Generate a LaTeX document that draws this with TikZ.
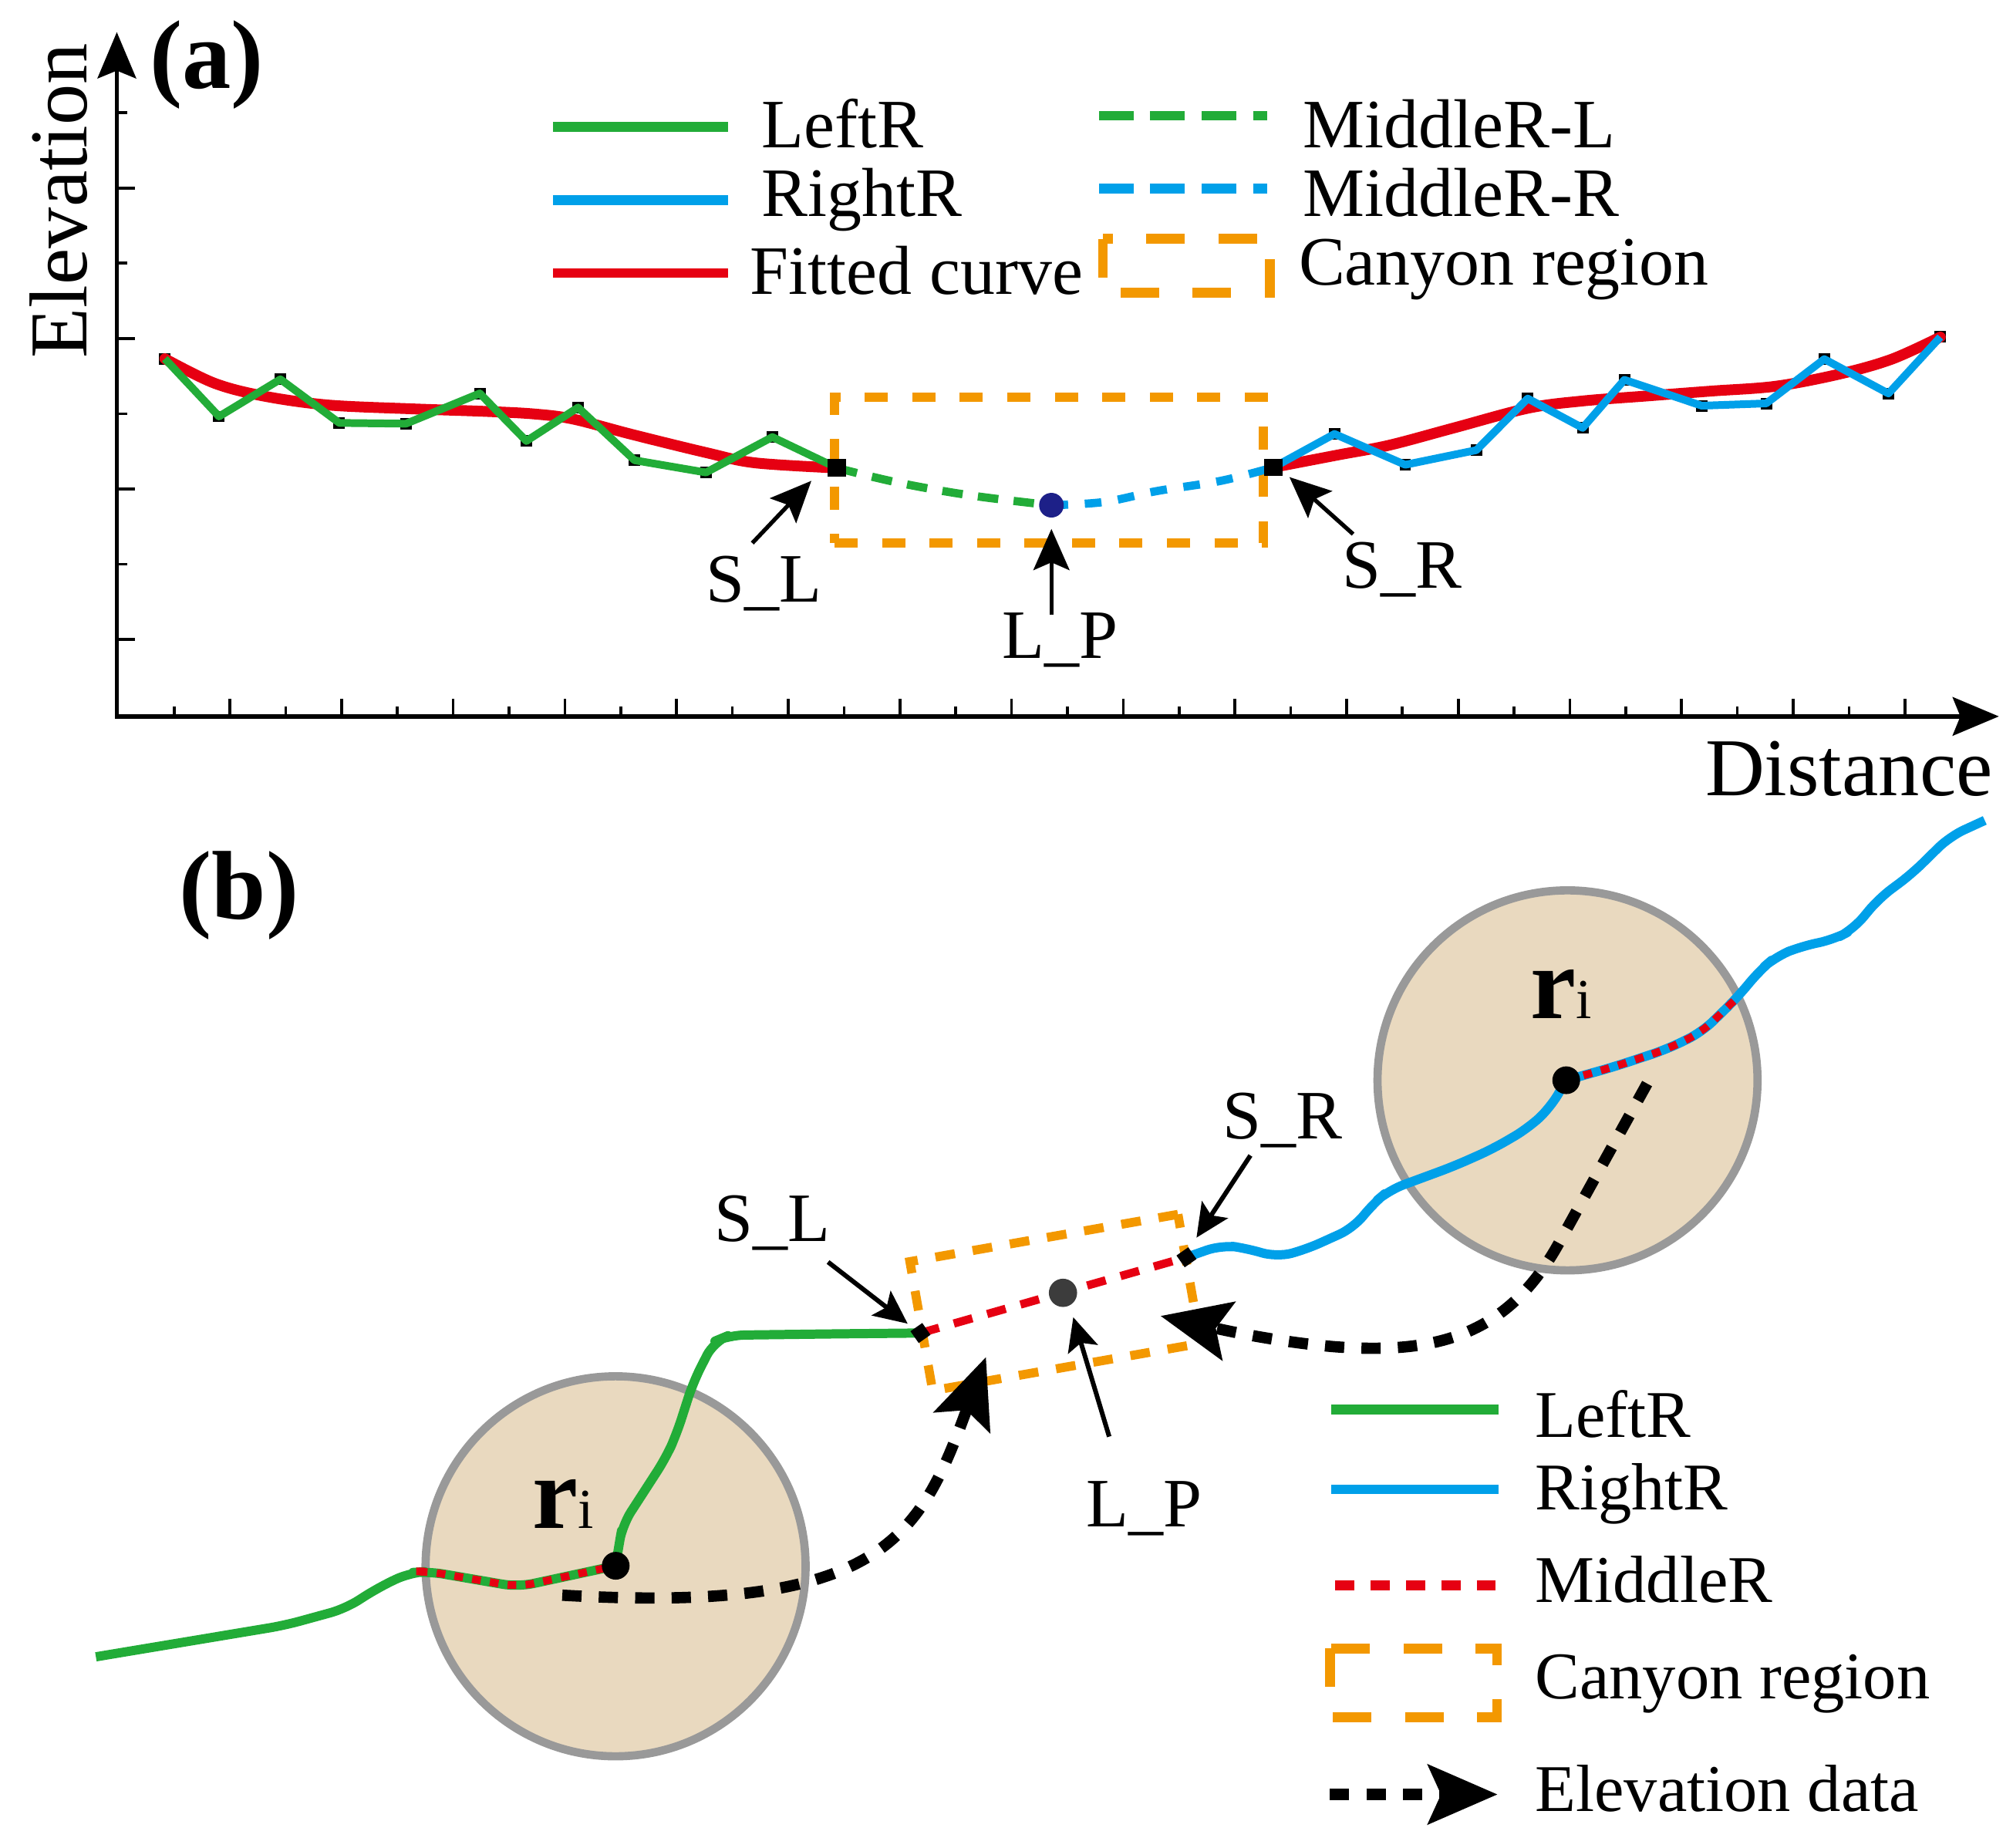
\documentclass[tikz,border=0pt]{standalone}
\usepackage{fontspec}
\setmainfont{Liberation Serif}
\usetikzlibrary{arrows.meta}
\definecolor{cgreen}{RGB}{34,172,56}
\definecolor{cblue}{RGB}{0,160,233}
\definecolor{cred}{RGB}{230,0,18}
\definecolor{corange}{RGB}{243,152,0}
\definecolor{cbeige}{RGB}{233,217,191}
\definecolor{cgray}{RGB}{153,153,153}
\definecolor{cnavy}{RGB}{29,32,136}
\definecolor{cdark}{RGB}{60,60,60}
\begin{document}
\begin{tikzpicture}[x=0.25pt,y=-0.25pt,
  axisline/.style={line width=0.8pt,{Stealth[length=9pt,width=7.5pt,inset=1.5pt]}-{Stealth[length=9pt,width=7.5pt,inset=1.5pt]}},
  tickline/.style={line width=0.55pt},
  lbl/.style={inner sep=0pt,anchor=base,font=\fontsize{13.5}{16}\selectfont},
  legA/.style={inner sep=0pt,anchor=base west,font=\fontsize{13.5}{16}\selectfont},
  legB/.style={inner sep=0pt,anchor=base west,font=\fontsize{13}{15}\selectfont},
  ptrA/.style={line width=0.8pt,-{Stealth[length=8pt,width=7pt,inset=1.5pt]}},
  ptrB/.style={line width=0.9pt,-{Stealth[length=6.5pt,width=6pt,inset=1.3pt]}},
  elev/.style={line width=2.2pt,dash pattern=on 3.75pt off 3.35pt,-{Stealth[length=13.5pt,width=11.5pt,inset=2.5pt]}},
  lineL/.style={cgreen,line width=1.5pt,line join=round},
  lineR/.style={cblue,line width=1.5pt,line join=round},
  fitted/.style={cred,line width=2.1pt,line cap=round},
  midL/.style={cgreen,line width=1.6pt,dash pattern=on 4pt off 3pt},
  midR/.style={cblue,line width=1.6pt,dash pattern=on 3.25pt off 3.25pt},
  canyonA/.style={draw=corange,line width=1.75pt,dash pattern=on 4.5pt off 4.75pt,inner sep=0pt},
  canyonB/.style={draw=corange,line width=1.75pt,dash pattern=on 3.85pt off 3.5pt,inner sep=0pt,rotate=10},
  canyonLeg/.style={draw=corange,line width=1.9pt,dash pattern=on 7.5pt off 6.5pt},
  riverL/.style={cgreen,line width=1.8pt,rounded corners=3pt,line join=round},
  riverR/.style={cblue,line width=1.8pt,rounded corners=3pt,line join=round},
  midB/.style={cred,line width=1.6pt,dash pattern=on 3.75pt off 3pt},
  redOver/.style={cred,line width=1.5pt,dash pattern=on 1.7pt off 1.8pt,rounded corners=3pt},
  bufcircle/.style={circle,draw=cgray,fill=cbeige,line width=1.6pt,minimum size=74pt,inner sep=0pt},
  legline/.style={line width=1.9pt},
  ritext/.style={inner sep=0pt,anchor=base west}
]
\useasboundingbox (0,0) rectangle (1568,1439);

% ---------------- panel (a) ----------------
\coordinate (O) at (91,558);
\coordinate (Ytip) at (91,25);
\coordinate (Xtip) at (1557,558);
\draw[axisline] (Ytip) -- (O) -- (Xtip);
\foreach \k in {0,...,7}{%
  \pgfmathsetmacro{\yy}{498-58.6*\k}%
  \pgfmathsetmacro{\ll}{mod(\k,2)==0 ? 14 : 8}%
  \draw[tickline] (91,\yy) -- ++(\ll,0);
}
\foreach \k in {0,...,31}{%
  \pgfmathsetmacro{\xx}{135.6+43.49*\k}%
  \pgfmathsetmacro{\ll}{mod(\k,2)==0 ? 8 : 14}%
  \draw[tickline] (\xx,558) -- ++(0,-\ll);
}
\node[font=\fontsize{16}{19}\selectfont,rotate=90,anchor=base west,inner sep=0pt] (elevlab) at (67.4,279.7) {Elevation};
\node[font=\fontsize{16}{19}\selectfont,anchor=base east,inner sep=0pt] (distlab) at (1553,619.5) {Distance};
\node[font=\fontsize{19}{22}\selectfont\bfseries,anchor=base west,inner sep=0pt] (panelA) at (116,69) {(a)};

% canyon region (a)
\node[canyonA,minimum width=83.5pt,minimum height=28.4pt] (canyonRegA) at (817,366.3) {};

% vertex markers
\foreach \p in {(128.4,279.4),(170.6,324.4),(218.4,295.4),(264.3,329.4),(316.2,330),(373.7,306.4),(410,343.5),(450.3,317.4),(494.3,358.5),(549.9,368),(601.6,340.4),(1039.5,338),(1094.6,362),(1150,350.6),(1190,310.4),(1232.8,333.3),(1265.3,295.8),(1325.6,316),(1375.8,314.2),(1421,279.7),(1471,306.5),(1511.4,262.5)}{%
  \fill[black] \p ++(-4.5,-4.5) rectangle ++(9,9);
}

% fitted curves
\draw[fitted] plot[smooth,tension=0.55] coordinates {(128.4,279.4) (166.8,298.4) (205,308.4) (254.9,315.4) (320,318.4) (377.5,320.4) (415.7,322.4) (446.4,326.4) (492.4,338.4) (549.9,352.5) (588.2,360.5) (652,364.5)};
\draw[fitted] plot[smooth,tension=0.55] coordinates {(992,364) (1042,354.4) (1082,346.8) (1132.5,333.3) (1190,318) (1232.8,312.3) (1283,308.4) (1333,304.6) (1383.4,300.8) (1433.5,291.2) (1473.7,279.7) (1511.4,262.5)};

% LeftR / RightR polylines
\coordinate (SLa) at (652,364.5);
\coordinate (SRa) at (992,364);
\coordinate (LPa) at (819,393.5);
\draw[lineL] (128.4,279.4) -- (170.6,324.4) -- (218.4,295.4) -- (264.3,329.4) -- (316.2,330) -- (373.7,306.4) -- (410,343.5) -- (450.3,317.4) -- (494.3,358.5) -- (549.9,368) -- (601.6,340.4) -- (SLa);
\draw[lineR] (SRa) -- (1039.5,338) -- (1094.6,362) -- (1150,350.6) -- (1190,310.4) -- (1232.8,333.3) -- (1265.3,295.8) -- (1325.6,316) -- (1375.8,314.2) -- (1421,279.7) -- (1471,306.5) -- (1511.4,262.5);

% middle dashed
\draw[midL] plot[smooth,tension=0.6] coordinates {(652,364.5) (700,376) (757,386) (819,393.5)};
\draw[midR] plot[smooth,tension=0.6] coordinates {(819,393.5) (860,391) (901,382.5) (951,374.5) (992,364)};

% markers
\node[fill=black,inner sep=0pt,minimum width=3.6pt,minimum height=3.4pt] (SLmA) at (SLa) {};
\node[fill=black,inner sep=0pt,minimum width=3.6pt,minimum height=3.4pt] (SRmA) at (SRa) {};
\node[circle,fill=cnavy,inner sep=0pt,minimum size=4.8pt] (LPdotA) at (LPa) {};

% labels (a)
\node[lbl] (SLlabA) at (595,469) {S\_L};
\node[lbl] (SRlabA) at (1092,458) {S\_R};
\node[lbl] (LPlabA) at (826,512.7) {L\_P};
\coordinate (SLa0) at (586,423);  \coordinate (SLa1) at (632,374.5);
\coordinate (SRa0) at (1054,416); \coordinate (SRa1) at (1004.4,371.6);
\coordinate (LPa0) at (819,479);  \coordinate (LPa1) at (819,412);
\draw[ptrA] (SLa0) -- (SLa1);
\draw[ptrA] (SRa0) -- (SRa1);
\draw[ptrA] (LPa0) -- (LPa1);

% legend (a)
\draw[legline,cgreen] (431,99) -- (567,99);
\draw[legline,cblue] (431,156) -- (567,156);
\draw[legline,cred] (431,212.6) -- (567,212.6);
\draw[legline,cgreen,dash pattern=on 6.75pt off 3.25pt] (856,90) -- (987,90);
\draw[legline,cblue,dash pattern=on 6.75pt off 3.25pt] (856,147) -- (987,147);
\draw[canyonLeg] (859,186) rectangle (989,228);
\node[legA] (legA1) at (592.7,115) {LeftR};
\node[legA] (legA2) at (592.7,168.6) {RightR};
\node[legA] (legA3) at (583.7,229) {Fitted curve};
\node[legA] (legA4) at (1014.4,115) {MiddleR-L};
\node[legA] (legA5) at (1014.4,168.6) {MiddleR-R};
\node[legA] (legA6) at (1010.9,222) {Canyon region};

% ---------------- panel (b) ----------------
\node[font=\fontsize{19}{22}\selectfont\bfseries,anchor=base west,inner sep=0pt] (panelB) at (139,716) {(b)};

\node[bufcircle] (bufL) at (479.5,1220) {};
\node[bufcircle] (bufR) at (1221,841.5) {};

\coordinate (cLpt) at (479.6,1219.6);
\coordinate (cRpt) at (1220,841.4);
\coordinate (SLb) at (717,1038.3);
\coordinate (SRb) at (924.2,979.3);

% rivers
\draw[riverL] (74.7,1290.5) -- (221.6,1266) -- (269,1253) -- (294,1237) -- (318.8,1225) -- (333.6,1224) -- (403.4,1236) -- (cLpt);
\draw[riverL] (cLpt) -- (482,1204) -- (485,1187.6) -- (500.6,1163.5) -- (518.7,1135.5) -- (527,1117) -- (540,1076.6) -- (556,1045) -- (568,1040) -- (647.5,1039) -- (SLb);
\draw[riverR] (SRb) -- (951.6,969.7) -- (971.8,972.4) -- (994.3,979.3) -- (1017,973.3) -- (1054.4,956.4) -- (1069.5,937.6) -- (1082,927) -- (1132.4,908.4) -- (1162.5,895) -- (1190,879) -- (1207.6,862.8) -- (cRpt);
\draw[riverR] (cRpt) -- (1257.9,830.7) -- (1298,817.4) -- (1325.6,804) -- (1353,777.2) -- (1370.8,755.8) -- (1383.4,745) -- (1403.4,737) -- (1428.5,731.8) -- (1443.6,723.8) -- (1463.6,699.7) -- (1488.8,681) -- (1518.8,651.5) -- (1546,639);
\draw[redOver] (331,1224) -- (333.6,1224) -- (403.4,1236) -- (cLpt);
\draw[redOver] (cRpt) -- (1257.9,830.7) -- (1298,817.4) -- (1325.6,804) -- (1353,777.2);

% canyon region (b)
\node[canyonB,minimum width=53pt,minimum height=25.5pt] (canyonRegB) at (822,1014.5) {};
\draw[midB] (SLb) -- (SRb);

% points
\node[fill=black,inner sep=0pt,minimum size=2.8pt,rotate=35] (SLmB) at (SLb) {};
\node[fill=black,inner sep=0pt,minimum size=2.8pt,rotate=35] (SRmB) at (SRb) {};
\node[circle,fill=cdark,inner sep=0pt,minimum size=5.5pt] (LPdotB) at (828,1007) {};
\node[circle,fill=black,inner sep=0pt,minimum size=5.4pt] (cLdot) at (cLpt) {};
\node[circle,fill=black,inner sep=0pt,minimum size=5.4pt] (cRdot) at (cRpt) {};

% elevation data arrows
\coordinate (eL0) at (438,1242.5);
\coordinate (eL1) at (768,1057);
\coordinate (eR0) at (1283,844);
\coordinate (eR1) at (904,1025);
\draw[elev] (eL0) .. controls (688,1257) and (716,1198.7) .. (eL1);
\draw[elev] (eR0) -- (1215,967) .. controls (1175,1040) and (1120,1055) .. (1040,1049) .. controls (990,1045) and (940,1033) .. (eR1);

% labels (b)
\node[lbl] (SLlabB) at (601.5,967) {S\_L};
\node[lbl] (SRlabB) at (999.3,887) {S\_R};
\node[lbl] (LPlabB) at (891.4,1189) {L\_P};
\coordinate (SLb0) at (645,983);  \coordinate (SLb1) at (707,1031);
\coordinate (SRb0) at (974,900);  \coordinate (SRb1) at (932,964);
\coordinate (LPb0) at (864,1119); \coordinate (LPb1) at (836,1026);
\draw[ptrB] (SLb0) -- (SLb1);
\draw[ptrB] (SRb0) -- (SRb1);
\draw[ptrB] (LPb0) -- (LPb1);

\node[ritext] (riL) at (414,1190.6) {{\fontsize{20}{22}\selectfont\bfseries r}{\fontsize{11}{12}\selectfont i}};
\node[ritext] (riR) at (1191.5,793.3) {{\fontsize{20}{22}\selectfont\bfseries r}{\fontsize{11}{12}\selectfont i}};

% legend (b)
\draw[legline,cgreen] (1037,1098) -- (1167,1098);
\draw[legline,cblue] (1037,1160) -- (1167,1160);
\draw[legline,cred,dash pattern=on 3.75pt off 3.15pt] (1040,1235) -- (1165,1235);
\draw[canyonLeg] (1036,1284) rectangle (1166,1337.6);
\coordinate (eLeg0) at (1036,1397.7);
\coordinate (eLeg1) at (1166.5,1397.7);
\draw[elev] (eLeg0) -- (eLeg1);
\node[legB] (legB1) at (1195,1119.6) {LeftR};
\node[legB] (legB2) at (1195,1175.8) {RightR};
\node[legB] (legB3) at (1195,1248) {MiddleR};
\node[legB] (legB4) at (1195,1323) {Canyon region};
\node[legB] (legB5) at (1195,1411) {Elevation data};
\end{tikzpicture}
\end{document}
